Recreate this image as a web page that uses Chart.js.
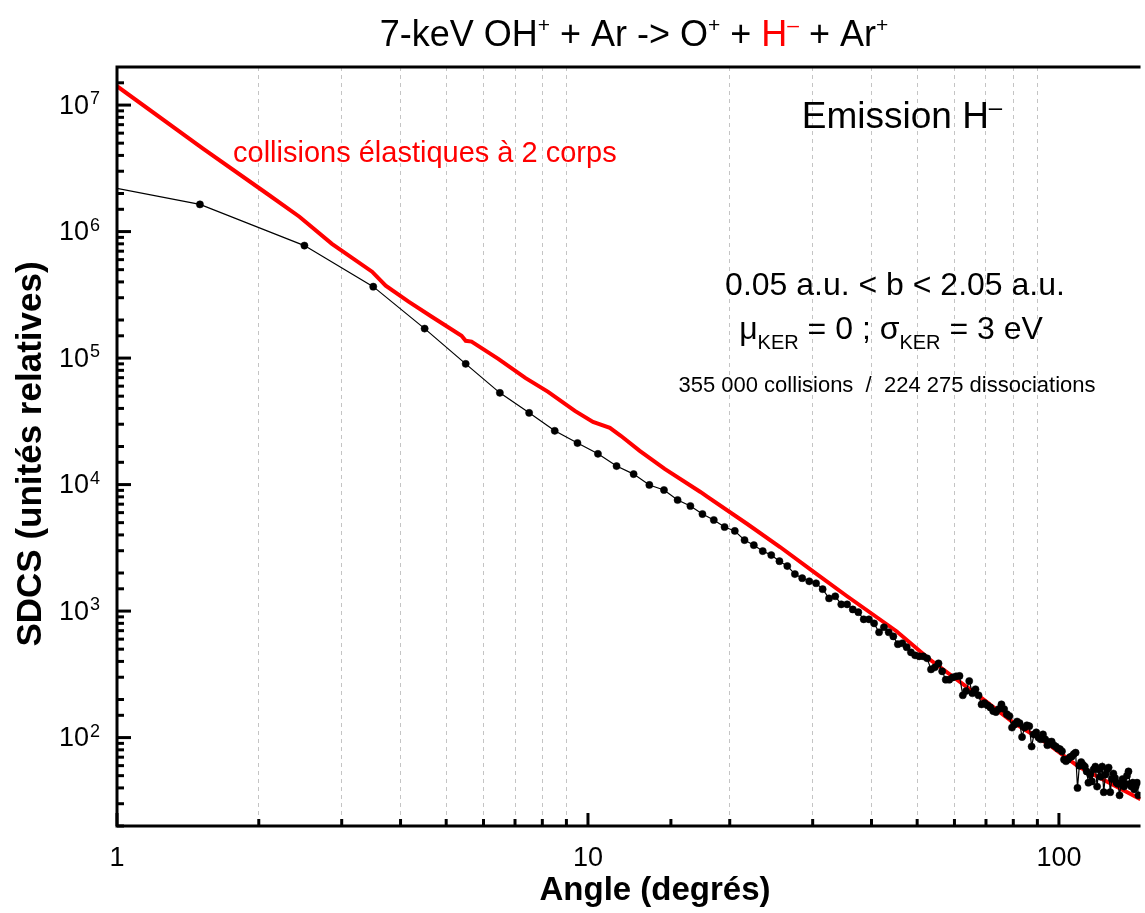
<!DOCTYPE html>
<html>
<head>
<meta charset="utf-8">
<title>SDCS emission H-</title>
<script src="https://cdn.jsdelivr.net/npm/chart.js@4.4.1/dist/chart.umd.min.js"></script>
<style>
  html, body { margin: 0; padding: 0; background: #fff; }
  #wrap { width: 1145px; height: 913px; position: relative; }
</style>
</head>
<body>
<div id="wrap"><canvas id="sdcs"></canvas></div>
<script>
// angles (deg) of the simulated points, one per degree bin
const angles = [
  0.5, 1.5, 2.5, 3.5, 4.5, 5.5, 6.5, 7.5, 8.5, 9.5,
  10.5, 11.5, 12.5, 13.5, 14.5, 15.5, 16.5, 17.5, 18.5, 19.5,
  20.5, 21.5, 22.5, 23.5, 24.5, 25.5, 26.5, 27.5, 28.5, 29.5,
  30.5, 31.5, 32.5, 33.5, 34.5, 35.5, 36.5, 37.5, 38.5, 39.5,
  40.5, 41.5, 42.5, 43.5, 44.5, 45.5, 46.5, 47.5, 48.5, 49.5,
  50.5, 51.5, 52.5, 53.5, 54.5, 55.5, 56.5, 57.5, 58.5, 59.5,
  60.5, 61.5, 62.5, 63.5, 64.5, 65.5, 66.5, 67.5, 68.5, 69.5,
  70.5, 71.5, 72.5, 73.5, 74.5, 75.5, 76.5, 77.5, 78.5, 79.5,
  80.5, 81.5, 82.5, 83.5, 84.5, 85.5, 86.5, 87.5, 88.5, 89.5,
  90.5, 91.5, 92.5, 93.5, 94.5, 95.5, 96.5, 97.5, 98.5, 99.5,
  100.5, 101.5, 102.5, 103.5, 104.5, 105.5, 106.5, 107.5, 108.5, 109.5,
  110.5, 111.5, 112.5, 113.5, 114.5, 115.5, 116.5, 117.5, 118.5, 119.5,
  120.5, 121.5, 122.5, 123.5, 124.5, 125.5, 126.5, 127.5, 128.5, 129.5,
  130.5, 131.5, 132.5, 133.5, 134.5, 135.5, 136.5, 137.5, 138.5, 139.5,
  140.5, 141.5, 142.5, 143.5, 144.5, 145.5, 146.5, 147.5
];
// SDCS of the simulation (relative units)
const sdcs = [
  3.6e6, 1.64e6, 7.75e5, 3.67e5, 1.71e5, 9.0e4, 5.31e4, 3.69e4, 2.66e4, 2.13e4,
  1.75e4, 1.40e4, 1.21e4, 9930, 9060, 7550, 6770, 5850, 5250, 4620,
  4300, 3640, 3320, 2980, 2770, 2480, 2270, 1960, 1820, 1720,
  1660, 1490, 1260, 1310, 1130, 1130, 1030, 980, 861, 861,
  800, 680, 745, 680, 631, 547, 557, 518, 472, 447,
  439, 439, 423, 346, 359, 386, 334, 287, 287, 299,
  305, 307, 216, 233, 280, 224, 241, 216, 183, 187,
  180, 173, 162, 159, 168, 183, 168, 153, 148, 120,
  127, 134, 130, 101, 120, 125, 123, 85, 106, 110,
  100, 97, 106, 97, 87, 92, 93, 87, 85, 82,
  81, 78, 67, 65, 67, 70, 71, 74, 76, 40,
  60, 64, 61, 59, 54, 44, 51, 45, 56, 59,
  41, 56, 49, 59, 37, 51, 56, 58, 37, 47,
  52, 48, 44, 43, 35, 43, 47, 41, 43, 50,
  54, 43, 41, 44, 39, 41, 44, 35
];
// two-body elastic collision curve
const elasticAngles = [
  1, 1.52, 2.08, 2.44, 2.86, 3.48, 3.72, 4.16, 4.66, 5.39,
  5.5, 5.66, 6.45, 7.36, 8.23, 9.38, 10.25, 11.13, 11.74, 12.88,
  14.55, 17.33, 17.94, 21.79, 25.58, 30.2, 35.5, 45.2, 53.1, 67.8,
  79.9, 93.8, 110, 149
];
const elasticValues = [
  1.41e7, 4.54e6, 2.0e6, 1.31e6, 8.0e5, 4.82e5, 3.73e5, 2.79e5, 2.12e5, 1.50e5,
  1.37e5, 1.35e5, 9.87e4, 6.98e4, 5.41e4, 3.82e4, 3.13e4, 2.81e4, 2.43e4, 1.85e4,
  1.33e4, 8740, 7980, 4880, 3210, 2030, 1310, 693, 416, 212,
  132, 91.5, 59, 32.5
];
const xLabels = [1, 10, 100];
const yLabelExps = [2, 3, 4, 5, 6, 7];

const FONT = '"Liberation Sans", Arial, Helvetica, sans-serif';

// draw a run of [text, style] parts, style = {size, color, dy, bold}
function richText(ctx, parts, x, y, align) {
  let total = 0;
  parts.forEach(p => {
    ctx.font = (p.bold ? 'bold ' : '') + p.size + 'px ' + FONT;
    p.w = ctx.measureText(p.t).width;
    total += p.w;
  });
  let cx = align === 'center' ? x - total / 2 : x;
  ctx.textAlign = 'left';
  ctx.textBaseline = 'alphabetic';
  parts.forEach(p => {
    ctx.font = (p.bold ? 'bold ' : '') + p.size + 'px ' + FONT;
    ctx.fillStyle = p.color || '#000';
    ctx.fillText(p.t, cx, y + (p.dy || 0));
    cx += p.w;
  });
}

const isDecade = v => Math.abs(Math.log10(v) % 1) < 1e-9;

const frame = {
  id: 'frame',
  afterDraw(chart) {
    const { ctx, chartArea: a, scales: { x, y } } = chart;
    ctx.save();
    ctx.strokeStyle = '#000';
    ctx.lineCap = 'butt';

    // inward ticks
    x.ticks.forEach(t => {
      const px = x.getPixelForValue(t.value);
      if (px < a.left || px > a.right - 2) return;
      ctx.lineWidth = 3;
      ctx.beginPath();
      ctx.moveTo(px, a.bottom);
      ctx.lineTo(px, a.bottom - (isDecade(t.value) ? 13 : 7));
      ctx.stroke();
    });
    y.ticks.forEach(t => {
      const py = y.getPixelForValue(t.value);
      if (py < a.top + 2 || py > a.bottom) return;
      ctx.lineWidth = 3;
      ctx.beginPath();
      ctx.moveTo(a.left, py);
      ctx.lineTo(a.left + (isDecade(t.value) ? 14 : 7), py);
      ctx.stroke();
    });

    // frame
    ctx.lineWidth = 3;
    ctx.beginPath();
    ctx.moveTo(a.right, a.top);
    ctx.lineTo(a.left, a.top);
    ctx.lineTo(a.left, a.bottom);
    ctx.lineTo(a.right, a.bottom);
    ctx.stroke();

    // tick labels
    ctx.fillStyle = '#000';
    ctx.font = '27px ' + FONT;
    ctx.textAlign = 'center';
    ctx.textBaseline = 'alphabetic';
    xLabels.forEach(v => {
      ctx.fillText(String(v), x.getPixelForValue(v), 866);
    });
    yLabelExps.forEach(e => {
      const py = y.getPixelForValue(Math.pow(10, e));
      ctx.font = '27px ' + FONT;
      ctx.textAlign = 'right';
      ctx.textBaseline = 'middle';
      ctx.fillText('10', 89, py + 1);
      ctx.font = '18px ' + FONT;
      ctx.textAlign = 'left';
      ctx.textBaseline = 'alphabetic';
      ctx.fillText(String(e), 90, py - 1);
    });

    // axis titles
    ctx.font = 'bold 33px ' + FONT;
    ctx.textAlign = 'center';
    ctx.textBaseline = 'middle';
    ctx.fillText('Angle (degrés)', 655, 891);
    ctx.save();
    ctx.translate(31, 454);
    ctx.rotate(-Math.PI / 2);
    ctx.font = 'bold 35px ' + FONT;
    ctx.fillText('SDCS (unités relatives)', 0, 0);
    ctx.restore();

    // title
    const n = { size: 36 }, s = { size: 21, dy: -14 };
    richText(ctx, [
      { t: '7-keV OH', ...n }, { t: '+', ...s }, { t: ' + Ar -> O', ...n }, { t: '+', ...s },
      { t: ' + ', ...n }, { t: 'H', ...n, color: '#ff0000' }, { t: '\u2013', ...s, color: '#ff0000' },
      { t: ' + Ar', ...n }, { t: '+', ...s }
    ], 634, 46, 'center');

    // annotations
    richText(ctx, [{ t: 'Emission H', size: 37 }, { t: '\u2013', size: 24, dy: -13 }], 902, 128, 'center');
    richText(ctx, [{ t: 'collisions élastiques à 2 corps', size: 29, color: '#ff0000' }], 233, 162, 'left');
    richText(ctx, [{ t: '0.05 a.u. < b < 2.05 a.u.', size: 32 }], 895, 295, 'center');
    richText(ctx, [
      { t: 'μ', size: 32 }, { t: 'KER', size: 20, dy: 10 }, { t: ' = 0 ; ', size: 32 },
      { t: 'σ', size: 32 }, { t: 'KER', size: 20, dy: 10 }, { t: ' = 3 eV', size: 32 }
    ], 891, 339, 'center');
    richText(ctx, [{ t: '355 000 collisions  /  224 275 dissociations', size: 22 }], 887, 392, 'center');

    ctx.restore();
  }
};

new Chart(document.getElementById('sdcs').getContext('2d'), {
  type: 'line',
  data: {
    datasets: [
      {
        label: 'simulation',
        data: angles.map((a, i) => ({ x: a, y: sdcs[i] })),
        borderColor: '#000',
        borderWidth: 1.2,
        pointRadius: 3.6,
        pointBackgroundColor: '#000',
        pointBorderColor: '#000',
        pointBorderWidth: 0.5,
        tension: 0,
        clip: 0,
        order: 0
      },
      {
        label: 'collisions élastiques à 2 corps',
        data: elasticAngles.map((a, i) => ({ x: a, y: elasticValues[i] })),
        borderColor: '#ff0000',
        borderWidth: 4,
        pointRadius: 0,
        tension: 0,
        clip: 0,
        order: 1
      }
    ]
  },
  options: {
    responsive: true,
    maintainAspectRatio: false,
    animation: false,
    layout: { padding: { left: 117, top: 67, right: 0, bottom: 87 } },
    plugins: { legend: { display: false }, tooltip: { enabled: false }, title: { display: false } },
    scales: {
      x: {
        type: 'logarithmic',
        min: 1,
        max: 149,
        ticks: { display: false },
        border: { display: false, dash: [4, 4] },
        grid: {
          drawTicks: false,
          lineWidth: 1,
          color: c => {
            const v = c.tick && c.tick.value;
            if (!v || isDecade(v)) return 'rgba(0,0,0,0)';
            const m = v / Math.pow(10, Math.floor(Math.log10(v) + 1e-9));
            return Math.abs(m - Math.round(m)) < 1e-6 ? '#c4c4c4' : 'rgba(0,0,0,0)';
          }
        }
      },
      y: {
        type: 'logarithmic',
        min: 20,
        max: 2e7,
        ticks: { display: false },
        border: { display: false },
        grid: { display: false, drawTicks: false }
      }
    }
  },
  plugins: [frame]
});
</script>
</body>
</html>
